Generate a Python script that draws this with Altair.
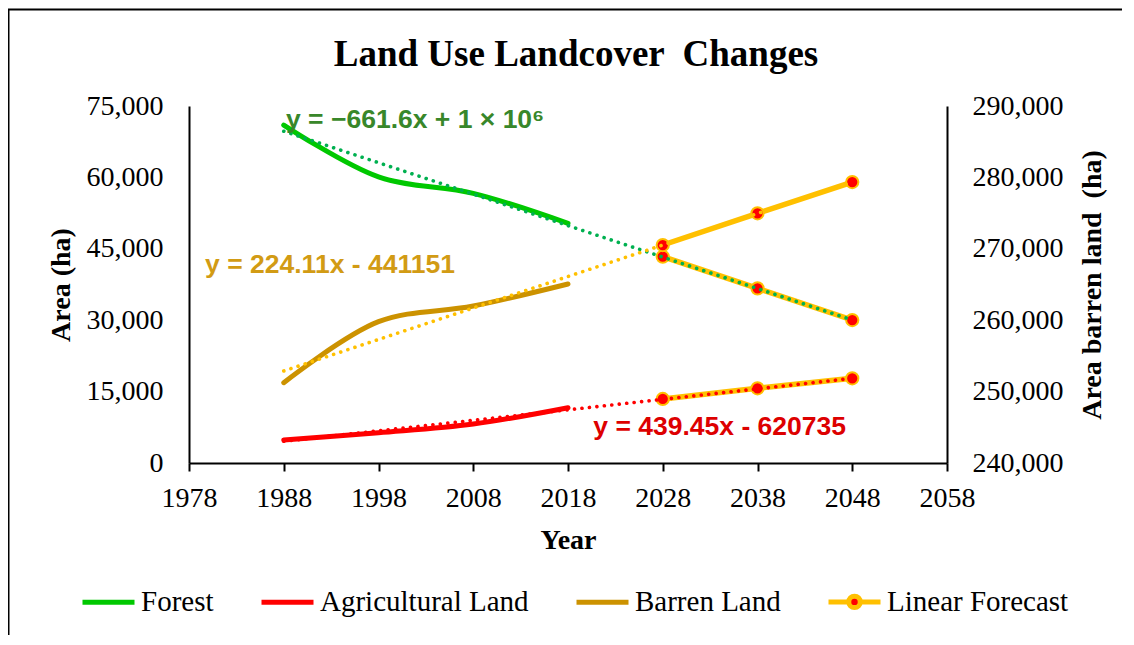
import altair as alt
import pandas as pd

# ---------------- data ----------------
years_hist = [1988, 1998, 2008, 2018]
forest_hist = [71000, 60100, 56650, 50350]
agri_hist = [4830, 6370, 8190, 11620]
barren_hist = [251250, 259790, 261990, 265070]  # secondary axis

years_fc = [2028, 2038, 2048]
forest_fc = [43340, 36690, 30040]
agri_fc = [13450, 15690, 17790]
barren_fc = [270530, 274970, 279350]  # secondary axis

trend_years = [1988, 2048]
forest_trend = [69700, 30040]
agri_trend = [4560, 17790]
barren_trend = [252890, 279350]  # secondary axis

eq_labels = ["y = \u2212661.6x + 1 \u00d7 10\u2076", "y = 224.11x - 441151", "y = 439.45x - 620735"]
eq_years = [1988.24, 1979.7, 2020.67]
eq_values = [70380, 39850, 5880]
eq_colors = ["#38872A", "#D29B14", "#DD0000"]

legend_names = ["Forest", "Agricultural Land", "Barren Land", "Linear Forecast"]
legend_strokes = ["#00C800", "#FF0000", "#CC9200", "#FFC000"]
legend_fills = ["transparent", "transparent", "transparent", "#FF0000"]
line_path = "M-1,0L1,0"
fc_path = ("M-1,0L-0.22,0M0.22,0L1,0"
           "M-0.22,0A0.22,0.22 0 1,1 0.22,0A0.22,0.22 0 1,1 -0.22,0Z")
legend_shapes = [line_path, line_path, line_path, fc_path]

x_ticks = [1978, 1988, 1998, 2008, 2018, 2028, 2038, 2048, 2058]
left_ticks = [0, 15000, 30000, 45000, 60000, 75000]
right_ticks = [240000, 250000, 260000, 270000, 280000, 290000]

GREEN, RED, GOLD, YELLOW = "#00C800", "#FF0000", "#CC9200", "#FFC000"
TREND_GREEN = "#00B050"

SERIF = "Liberation Serif"
SANS = "Liberation Sans"

W, H = 758, 357
PAD = {"left": 181, "top": 98, "right": 175, "bottom": 172}

# ---------------- scales & axes ----------------
x_scale = alt.Scale(domain=[1978, 2058], nice=False, zero=False)
x_axis = alt.Axis(values=x_ticks, format="d", title="Year", grid=False,
                  labelFont=SERIF, labelFontSize=28, labelColor="black",
                  labelPadding=13, labelFlush=False, labelOverlap=False,
                  titleFont=SERIF, titleFontSize=28, titleFontWeight="bold",
                  titleColor="black", titlePadding=14,
                  domainColor="black", domainWidth=2,
                  tickColor="black", tickWidth=2, tickSize=8)

left_scale = alt.Scale(domain=[0, 75000], nice=False, zero=False)
left_axis = alt.Axis(values=left_ticks, format=",d", title="Area (ha)", grid=False,
                     ticks=False, tickSize=0, labelPadding=26,
                     labelFont=SERIF, labelFontSize=28, labelColor="black",
                     titleFont=SERIF, titleFontSize=28, titleFontWeight="bold",
                     titleColor="black", titlePadding=11,
                     domainColor="black", domainWidth=2)

right_scale = alt.Scale(domain=[240000, 290000], nice=False, zero=False)
right_axis = alt.Axis(values=right_ticks, format=",d", orient="right",
                      title="Area barren land \u00a0(ha)", grid=False,
                      ticks=False, tickSize=0, labelPadding=25,
                      labelFont=SERIF, labelFontSize=28, labelColor="black",
                      titleFont=SERIF, titleFontSize=28, titleFontWeight="bold",
                      titleColor="black", titlePadding=15, titleAngle=270,
                      titleBaseline="top",
                      domainColor="black", domainWidth=2)


def frame(years, values):
    return pd.DataFrame({"year": years, "value": values})


def X():
    return alt.X("year:Q", scale=x_scale, axis=x_axis)


def Y(scale, axis):
    return alt.Y("value:Q", scale=scale, axis=axis)


def solid(df, color, scale, axis, width=5, interp="catmull-rom"):
    return alt.Chart(df).mark_line(color=color, strokeWidth=width, strokeCap="round",
                                   strokeJoin="round", interpolate=interp).encode(
        x=X(), y=Y(scale, axis))


def dotted(df, color, scale, axis):
    return alt.Chart(df).mark_line(color=color, strokeWidth=3.6, strokeCap="round",
                                   strokeDash=[0.1, 7.4]).encode(
        x=X(), y=Y(scale, axis))


def forecast(df, scale, axis):
    ln = alt.Chart(df).mark_line(color=YELLOW, strokeWidth=5.5, strokeCap="round").encode(
        x=X(), y=Y(scale, axis))
    pt = alt.Chart(df).mark_point(shape="circle", filled=True, fill=RED, stroke=YELLOW,
                                  strokeWidth=2, size=150, opacity=1).encode(
        x=X(), y=Y(scale, axis))
    return ln, pt


# ---------------- left (primary) axis group ----------------
f_ln, f_pt = forecast(frame(years_fc, forest_fc), left_scale, left_axis)
a_ln, a_pt = forecast(frame(years_fc, agri_fc), left_scale, left_axis)

eq_df = pd.DataFrame({"year": eq_years, "value": eq_values,
                      "label": eq_labels, "color": eq_colors})
eq_text = alt.Chart(eq_df).mark_text(align="left", baseline="alphabetic", font=SANS,
                                     fontWeight="bold", fontSize=26.5).encode(
    x=X(), y=Y(left_scale, left_axis), text="label:N",
    color=alt.Color("color:N", scale=None))

leg_df = pd.DataFrame({"series": legend_names})
leg = alt.Legend(orient="none", legendX=-109, legendY=467, direction="horizontal",
                 columns=4, title=None, labelFont=SERIF, labelFontSize=29,
                 labelColor="black", labelOffset=4, columnPadding=37,
                 symbolSize=2704, symbolStrokeWidth=5, labelLimit=400)
legend_layer = alt.Chart(leg_df).transform_filter("false").mark_point(opacity=1).encode(
    stroke=alt.Stroke("series:N", scale=alt.Scale(domain=legend_names, range=legend_strokes),
                      legend=leg),
    fill=alt.Fill("series:N", scale=alt.Scale(domain=legend_names, range=legend_fills),
                  legend=leg),
    shape=alt.Shape("series:N", scale=alt.Scale(domain=legend_names, range=legend_shapes),
                    legend=leg),
)

one = pd.DataFrame({"k": [0]})
border_left = alt.Chart(one).mark_rule(color="black", strokeWidth=2).encode(
    x=alt.value(-180.5), y=alt.value(-96.5), y2=alt.value(H + PAD["bottom"]))
border_top = alt.Chart(one).mark_rule(color="black", strokeWidth=2).encode(
    x=alt.value(-181.5), x2=alt.value(W + PAD["right"]), y=alt.value(-96.5))

left_group = alt.layer(
    solid(frame(years_hist, forest_hist), GREEN, left_scale, left_axis),
    solid(frame(years_hist, agri_hist), RED, left_scale, left_axis),
    f_ln, a_ln, f_pt, a_pt,
    dotted(frame(trend_years, forest_trend), TREND_GREEN, left_scale, left_axis),
    dotted(frame(trend_years, agri_trend), RED, left_scale, left_axis),
    eq_text,
    legend_layer,
    border_left, border_top,
)

# ---------------- right (secondary) axis group ----------------
b_ln, b_pt = forecast(frame(years_fc, barren_fc), right_scale, right_axis)
right_group = alt.layer(
    solid(frame(years_hist, barren_hist), GOLD, right_scale, right_axis),
    b_ln, b_pt,
    dotted(frame(trend_years, barren_trend), YELLOW, right_scale, right_axis),
)

chart = alt.layer(left_group, right_group).resolve_scale(
    y="independent"
).properties(
    width=W, height=H,
    autosize=alt.AutoSizeParams(type="none"),
    padding=PAD,
    background="white",
    title=alt.TitleParams(text="Land Use Landcover \u00a0Changes", font=SERIF, fontSize=37,
                          fontWeight="bold", color="black", anchor="middle",
                          frame="group", dx=8, offset=-94, baseline="alphabetic"),
).configure_view(stroke=None)

chart.save("out.html", embed_options={"renderer": "svg", "actions": False})
